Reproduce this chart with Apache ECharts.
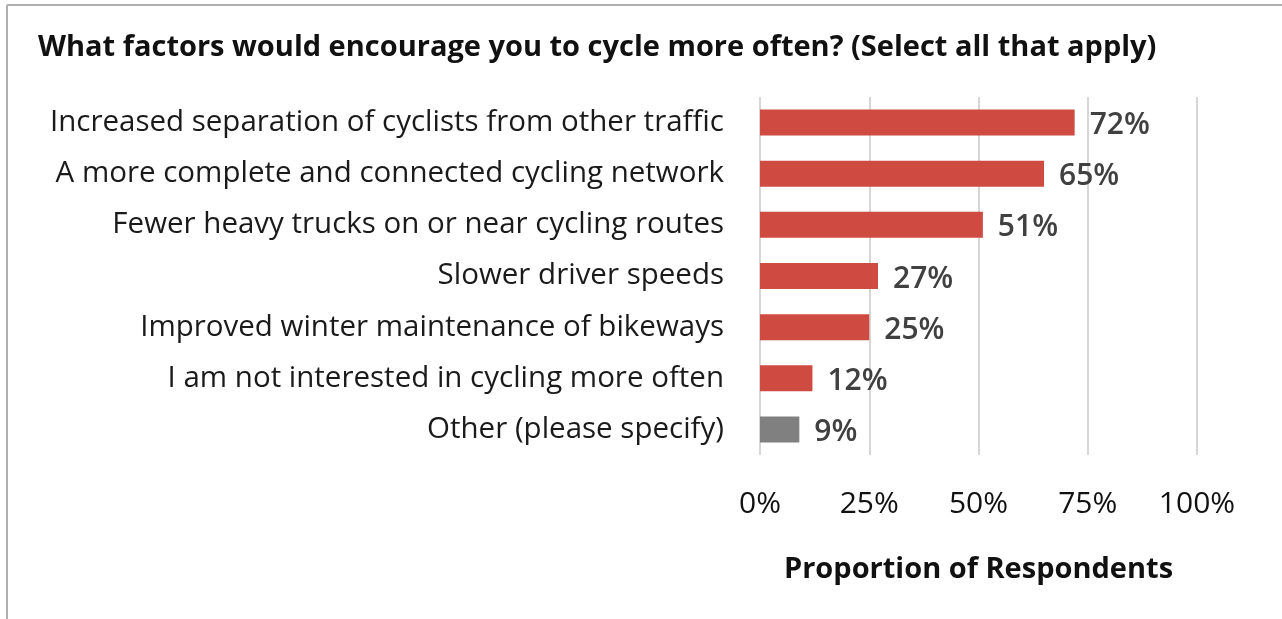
<!DOCTYPE html>
<html>
<head>
<meta charset="utf-8">
<script src="https://cdn.jsdelivr.net/npm/echarts@6/dist/echarts.min.js"></script>
<style>
  body { margin: 0; background: #fff; }
  #main { width: 1282px; height: 619px; }
</style>
</head>
<body>
<div id="main"></div>
<script>
// categories, top to bottom
var categories = [
  'Increased separation of cyclists from other traffic',
  'A more complete and connected cycling network',
  'Fewer heavy trucks on or near cycling routes',
  'Slower driver speeds',
  'Improved winter maintenance of bikeways',
  'I am not interested in cycling more often',
  'Other (please specify)'
];
var values = [72, 65, 51, 27, 25, 12, 9];
var barColors = ['#cf4a40', '#cf4a40', '#cf4a40', '#cf4a40', '#cf4a40', '#cf4a40', '#808080'];
var xTicks = [0, 25, 50, 75, 100];

var FONT = 'Open Sans, Liberation Sans, Arial, sans-serif';

var myChart = echarts.init(document.getElementById('main'));

// y axis is inverse so first category is on top
var seriesData = [];
for (var i = 0; i < values.length; i++) {
  seriesData.push({ value: values[i], itemStyle: { color: barColors[i] } });
}

var option = {
  backgroundColor: '#fff',
  animation: false,
  title: {
    text: 'What factors would encourage you to cycle more often? (Select all that apply)',
    left: 33,
    top: 28,
    textStyle: {
      fontFamily: FONT,
      fontSize: 29,
      fontWeight: 'bold',
      color: '#111'
    }
  },
  graphic: [
    { type: 'line', shape: { x1: 7, y1: 5, x2: 1282, y2: 5 }, style: { stroke: '#b0b0b0', lineWidth: 2 } },
    { type: 'line', shape: { x1: 7, y1: 5, x2: 7, y2: 619 }, style: { stroke: '#b0b0b0', lineWidth: 2 } }
  ],
  grid: {
    left: 760,
    right: 85,
    top: 97,
    bottom: 164
  },
  xAxis: {
    type: 'value',
    min: 0,
    max: 100,
    interval: 25,
    name: 'Proportion of Respondents',
    nameLocation: 'middle',
    nameGap: 100,
    nameTextStyle: {
      fontFamily: FONT,
      fontSize: 29,
      fontWeight: 'bold',
      color: '#111'
    },
    axisLine: { show: false },
    axisTick: { show: false },
    axisLabel: {
      margin: 34,
      fontFamily: FONT,
      fontSize: 30,
      color: '#111',
      formatter: function (v) { return xTicks.indexOf(v) >= 0 ? v + '%' : ''; }
    },
    splitLine: { show: true, lineStyle: { color: '#d6d6d6', width: 2 } }
  },
  yAxis: {
    type: 'category',
    inverse: true,
    data: categories,
    axisLine: { show: false },
    axisTick: { show: false },
    axisLabel: {
      margin: 36,
      fontFamily: FONT,
      fontSize: 29.5,
      color: '#1a1a1a',
      padding: [0, 0, 3, 0]
    }
  },
  series: [
    {
      name: 'Proportion',
      type: 'bar',
      data: seriesData,
      barWidth: 26,
      label: {
        show: true,
        position: 'right',
        distance: 15,
        formatter: '{c}%',
        fontFamily: FONT,
        fontSize: 30,
        fontWeight: 600,
        color: '#404040',
        offset: [0, 3]
      }
    }
  ]
};

myChart.setOption(option);
</script>
</body>
</html>
